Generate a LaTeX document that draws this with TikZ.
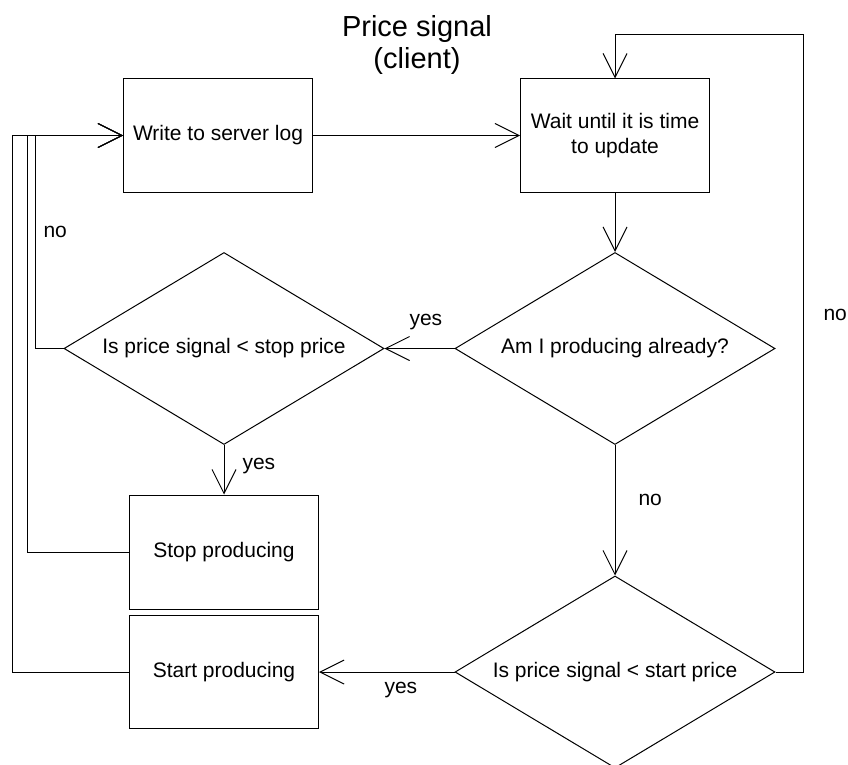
\documentclass[tikz,border=0pt]{standalone}
\usepackage{fontspec}
\setmainfont{Liberation Sans}
\usetikzlibrary{shapes.geometric,arrows.meta}
\begin{document}
\begin{tikzpicture}[x=1pt,y=-1pt,line width=1pt,
  txt/.style={font=\fontsize{21}{25}\selectfont},
  box/.style={txt,draw,rectangle,minimum width=189pt,minimum height=113pt,inner sep=0pt,align=center},
  dec/.style={txt,draw,diamond,aspect=1.6667,minimum width=320pt,minimum height=192pt,inner sep=0pt},
  lbl/.style={txt,inner sep=0pt,anchor=base west},
  arr/.style={-{Straight Barb[length=24pt,width=24pt]}}]
\clip (0,0) rectangle (848,765);
\fill[white] (0,0) rectangle (848,765);
% title
\node[inner sep=0pt,anchor=north,align=center,font=\fontsize{29}{32}\selectfont] (title) at (417,15) {Price signal\\(client)};
% boxes
\node[box] (write) at (218,135.5) {Write to server log};
\node[box] (wait) at (615,135.5) {Wait until it is time\\to update};
\node[box,minimum height=114pt] (stop) at (224,552) {Stop producing};
\node[box] (start) at (224,672) {Start producing};
% decisions
\node[dec] (d1) at (615,348.5) {Am I producing already?};
\node[dec] (d2) at (224,348.5) {Is price signal < stop price};
\node[dec] (d3) at (615,672) {Is price signal < start price};
% lanes
\coordinate (l1) at (12,0);
\coordinate (l2) at (27,0);
\coordinate (l3) at (35,0);
\coordinate (r) at (803,35);
% connectors
\draw[arr] (write.east) -- (wait.west);
\draw[arr] (wait.south) -- (d1.north);
\draw[arr] (d1.west) -- (d2.east);
\draw[arr] (d1.south) -- (d3.north);
\draw[arr] (d2.south) -- (stop.north);
\draw[arr] (d2.west) -- (d2.west -| l3) -- (l3 |- write.west) -- (write.west);
\draw[arr] (stop.west) -- (stop.west -| l2) -- (l2 |- write.west) -- (write.west);
\draw[arr] (start.west) -- (start.west -| l1) -- (l1 |- write.west) -- (write.west);
\draw[arr] (d3.west) -- (start.east);
\draw[arr] (d3.east) -| (r) -| (wait.north);
% labels
\node[lbl] (n1) at (43,237) {no};
\node[lbl] (y1) at (409,325) {yes};
\node[lbl] (y2) at (242,469) {yes};
\node[lbl] (n2) at (823,320) {no};
\node[lbl] (n3) at (638,505) {no};
\node[lbl] (y3) at (384,693) {yes};
\end{tikzpicture}
\end{document}
